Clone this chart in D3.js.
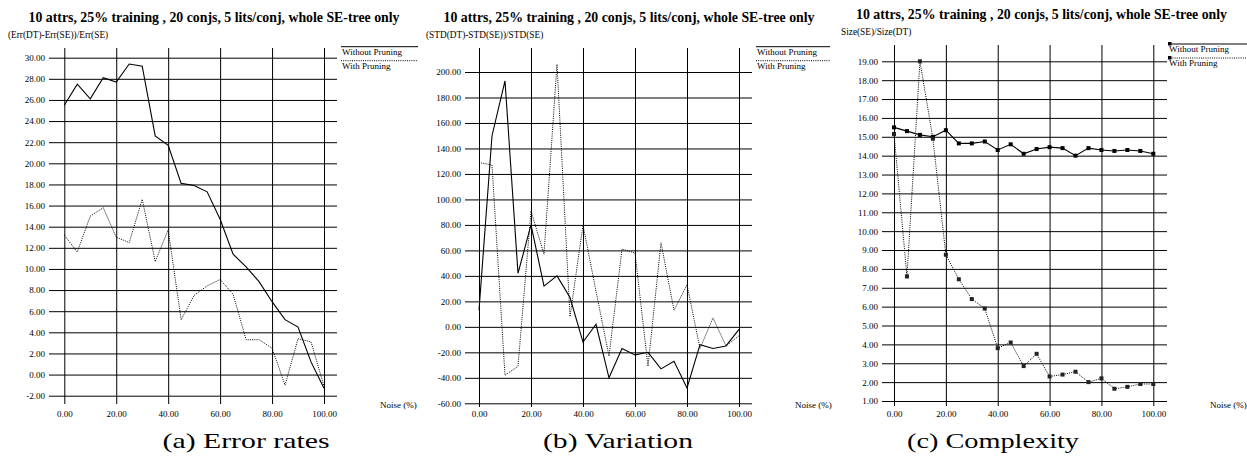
<!DOCTYPE html>
<html><head><meta charset="utf-8">
<script src="https://cdn.jsdelivr.net/npm/d3@7"></script>
<style>
body{margin:0;background:#fff}
svg{display:block}
text{font-family:"Liberation Serif","Times New Roman",serif;fill:#000}
</style>
</head><body>
<svg id="chart" width="1247" height="458"></svg>
<script>
// ---- data ----
const noise = [0,5,10,15,20,25,30,35,40,45,50,55,60,65,70,75,80,85,90,95,100];
const xTicks = [0,20,40,60,80,100];

const errWithout = [25.5,27.5,26.1,28.1,27.7,29.4,29.2,22.6,21.7,18.1,17.9,17.3,14.7,11.4,10.2,8.8,6.9,5.2,4.5,1.2,-1.3];
const errWith    = [13.2,11.6,15.0,15.8,13.0,12.5,16.6,10.7,13.7,5.2,7.5,8.4,9.0,7.6,3.3,3.3,2.5,-1.0,3.4,3.1,-1.1];
const errTicks   = [-2,0,2,4,6,8,10,12,14,16,18,20,22,24,26,28,30];

const varWithout = [13,150,193,42,80,32,40,23,-12,2,-40,-17,-22,-20,-33,-27,-48,-14,-17,-15,-2];
const varWith    = [129,127,-38,-31,91,57,206,8,80,28,-23,61,58,-31,66,13,33,-17,7,-15,-7];
const varTicks   = [-60,-40,-20,0,20,40,60,80,100,120,140,160,180,200];

const cmpWithout = [15.5,15.3,15.1,15.0,15.35,14.65,14.65,14.75,14.3,14.6,14.1,14.35,14.45,14.4,14.0,14.4,14.3,14.25,14.3,14.25,14.1];
const cmpWith    = [15.15,7.6,19.0,14.9,8.75,7.45,6.4,5.9,3.8,4.1,2.85,3.5,2.3,2.4,2.55,2.0,2.2,1.65,1.75,1.9,1.9];
const cmpTicks   = [1,2,3,4,5,6,7,8,9,10,11,12,13,14,15,16,17,18,19];

const titleText = "10 attrs, 25% training , 20 conjs, 5 lits/conj, whole SE-tree only";
const subtitles = ["(Err(DT)-Err(SE))/Err(SE)", "(STD(DT)-STD(SE))/STD(SE)", "Size(SE)/Size(DT)"];
const captions  = ["(a) Error rates", "(b) Variation", "(c) Complexity"];
const seriesNames = ["Without Pruning", "With Pruning"];
const xAxisLabel = "Noise (%)";

// ---- layout ----
const panels = [
  {without: errWithout, withP: errWith, ticks: errTicks, yDom: [-2,30], yRange: [395.7,57.7],
   x0: 64.3, x1: 324, vTop: 48, vBot: 404, hL: 49, hR: 337,
   legX: 341, legX2: 418, legY: 46.7, titleX: 214, titleY: 22, subX: 8, subY: 38,
   noiseX: 380, capX: 246, capW: 167, markers: false},
  {without: varWithout, withP: varWith, ticks: varTicks, yDom: [-60,200], yRange: [403.3,72],
   x0: 479, x1: 739, vTop: 48, vBot: 407, hL: 465, hR: 752,
   legX: 756, legX2: 830, legY: 46.7, titleX: 629, titleY: 22, subX: 426, subY: 38,
   noiseX: 795, capX: 618, capW: 150, markers: false},
  {without: cmpWithout, withP: cmpWith, ticks: cmpTicks, yDom: [1,19], yRange: [401,61.3],
   x0: 894, x1: 1153.3, vTop: 45, vBot: 406, hL: 882, hR: 1167,
   legX: 1168, legX2: 1250, legY: 44, titleX: 1041.5, titleY: 19, subX: 841, subY: 35,
   noiseX: 1210, capX: 993, capW: 172, markers: true}
];

const svg = d3.select("#chart");
const fmt = d => d.toFixed(2);

panels.forEach((p, i) => {
  const g = svg.append("g");
  const x = d3.scaleLinear().domain([0,100]).range([p.x0, p.x1]);
  const y = d3.scaleLinear().domain(p.yDom).range(p.yRange);

  // horizontal gridlines + y labels
  const ya = g.append("g").attr("transform", `translate(${p.hL},0)`)
    .call(d3.axisLeft(y).tickValues(p.ticks).tickFormat(fmt)
      .tickSize(-(p.hR - p.hL)).tickPadding(4));
  ya.select(".domain").remove();
  ya.selectAll("line").attr("stroke", "#000").attr("stroke-width", 1);
  ya.selectAll("text").attr("font-size", 9).attr("fill", "#000");

  // vertical gridlines + x labels
  const xa = g.append("g").attr("transform", `translate(0,${p.vBot})`)
    .call(d3.axisBottom(x).tickValues(xTicks).tickFormat(fmt)
      .tickSize(-(p.vBot - p.vTop)).tickPadding(4));
  xa.select(".domain").remove();
  xa.selectAll("line").attr("stroke", "#000").attr("stroke-width", 1);
  xa.selectAll("text").attr("font-size", 9).attr("fill", "#000")
    .attr("dy", 0).attr("y", 417 - p.vBot);

  const line = d3.line().x((d, k) => x(noise[k])).y(d => y(d));

  g.append("path").datum(p.withP).attr("d", line)
    .attr("fill", "none").attr("stroke", "#000").attr("stroke-width", 1)
    .attr("stroke-dasharray", "1,1.2");
  g.append("path").datum(p.without).attr("d", line)
    .attr("fill", "none").attr("stroke", "#000").attr("stroke-width", 1.1);

  if (p.markers) {
    [p.without, p.withP].forEach((arr, s) => {
      g.selectAll(null).data(arr).enter().append("rect")
        .attr("x", (d, k) => x(noise[k]) - 2).attr("y", d => y(d) - 2)
        .attr("width", 4).attr("height", 4)
        .attr("fill", s === 0 ? "#000" : "#222");
    });
  }

  // title & subtitle
  g.append("text").attr("x", p.titleX).attr("y", p.titleY).attr("text-anchor", "middle")
    .attr("font-size", 13.8).attr("font-weight", "bold")
    .attr("textLength", 371).attr("lengthAdjust", "spacingAndGlyphs").text(titleText);
  g.append("text").attr("x", p.subX).attr("y", p.subY).attr("font-size", 9.3).text(subtitles[i]);

  // legend
  [0, 1].forEach(s => {
    const ly = p.legY + s * 14;
    g.append("line").attr("x1", p.legX).attr("x2", p.legX2).attr("y1", ly).attr("y2", ly)
      .attr("stroke", "#000").attr("stroke-width", 1)
      .attr("stroke-dasharray", s === 1 ? "1,1.2" : null);
    if (p.markers) {
      g.append("rect").attr("x", p.legX).attr("y", ly - 2).attr("width", 3.5).attr("height", 3.5).attr("fill", "#000");
    }
    g.append("text").attr("x", p.legX + 1).attr("y", ly + 8.3).attr("font-size", 9).text(seriesNames[s]);
  });

  // x axis label
  g.append("text").attr("x", p.noiseX).attr("y", 408).attr("font-size", 9).text(xAxisLabel);

  // caption
  g.append("text").attr("x", p.capX).attr("y", 448).attr("text-anchor", "middle")
    .attr("font-size", 22).attr("textLength", p.capW).attr("lengthAdjust", "spacingAndGlyphs")
    .text(captions[i]);
});
</script>
</body></html>
